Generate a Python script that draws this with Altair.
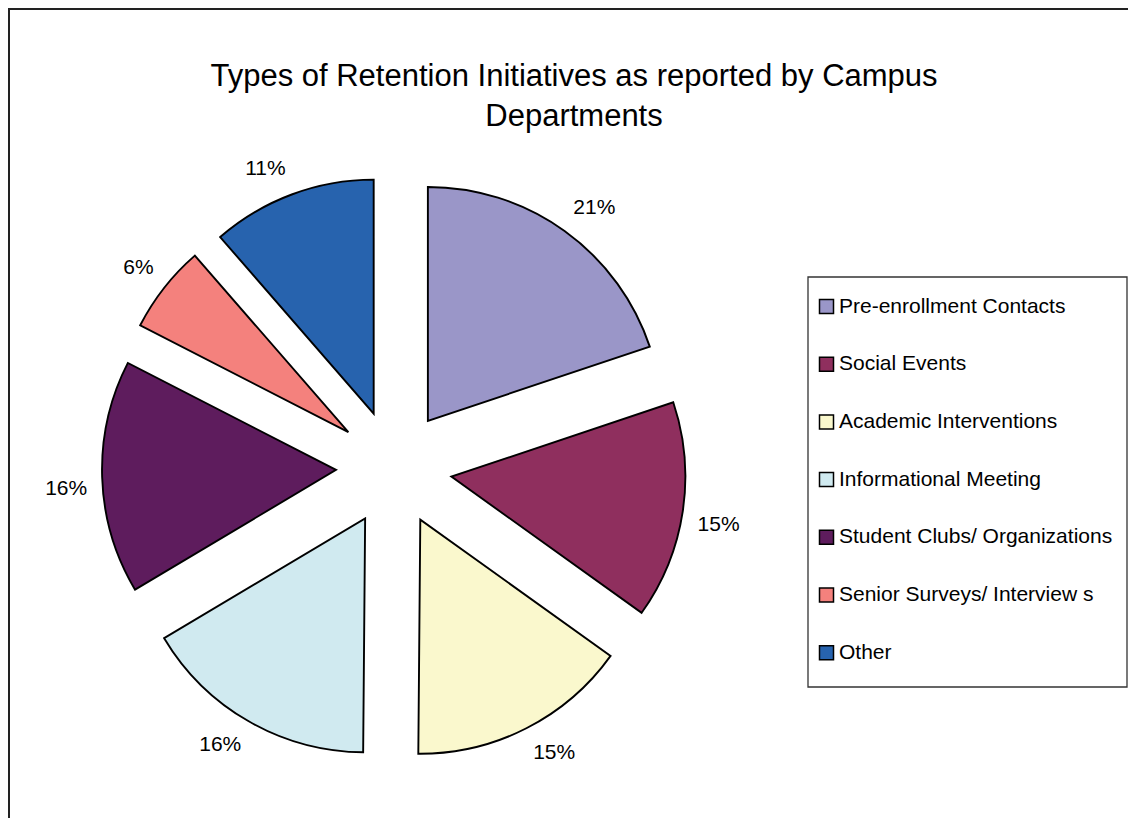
import math
import altair as alt
import pandas as pd

# ---- data ----
CATEGORIES = [
    "Pre-enrollment Contacts",
    "Social Events",
    "Academic Interventions",
    "Informational Meeting",
    "Student Clubs/ Organizations",
    "Senior Surveys/ Interview s",
    "Other",
]
# slice shares (percent) as drawn in the picture
SHARES = [19.86, 15.03, 15.25, 16.31, 16.11, 6.06, 11.39]
# data labels as printed next to each slice
PERCENT_LABELS = ["21%", "15%", "15%", "16%", "16%", "6%", "11%"]
COLORS = ["#9A96C8", "#8F2F5E", "#FAF8CD", "#D0EAF0", "#5E1C5D", "#F4817D", "#2763AE"]
TITLE_LINES = ["Types of Retention Initiatives as reported by Campus", "Departments"]

# ---- layout (pixels) ----
W, H = 1120, 810
CX, CY = 386, 460
R = 234
EXPLODE = 58
LABEL_L = 307      # distance of the label box corner from the pie centre
CHAR_HALF = 7      # half label width per character
HALF_H = 11        # half label height
FONT = "Liberation Sans"

df = pd.DataFrame(
    {
        "category": CATEGORIES,
        "share": SHARES,
        "label": PERCENT_LABELS,
        "idx": list(range(len(CATEGORIES))),
    }
)

base = (
    alt.Chart(df)
    .transform_window(cum="sum(share)", sort=[alt.SortField("idx")], frame=[None, 0])
    .transform_joinaggregate(total="sum(share)")
    .transform_calculate(
        start="(datum.cum - datum.share) / datum.total",
        end="datum.cum / datum.total",
        mid="(datum.cum - datum.share / 2) / datum.total",
        ex="sin(2 * PI * datum.mid)",
        ey="cos(2 * PI * datum.mid)",
    )
    .transform_calculate(
        lx=f"({LABEL_L} * datum.ex + (datum.ex >= 0 ? 1 : -1) * {CHAR_HALF} * length(datum.label)) / {EXPLODE}",
        ly=f"({LABEL_L} * datum.ey + (datum.ey >= 0 ? 1 : -1) * {HALF_H}) / {EXPLODE}",
    )
)

theta_scale = alt.Scale(domain=[0, 1], range=[0, 2 * math.pi])
x_scale = alt.Scale(domain=[-1, 1], range=[CX - EXPLODE, CX + EXPLODE], nice=False, zero=False)
y_scale = alt.Scale(domain=[-1, 1], range=[CY + EXPLODE, CY - EXPLODE], nice=False, zero=False)

arcs = base.mark_arc(radius=R, stroke="black", strokeWidth=1.9, strokeJoin="miter").encode(
    x=alt.X("ex:Q", scale=x_scale, axis=None),
    y=alt.Y("ey:Q", scale=y_scale, axis=None),
    theta=alt.Theta("start:Q", scale=theta_scale, stack=False),
    theta2="end:Q",
    color=alt.Color(
        "category:N",
        scale=alt.Scale(domain=CATEGORIES, range=COLORS),
        sort=CATEGORIES,
        legend=alt.Legend(
            title=None,
            orient="none",
            legendX=797,
            legendY=277,
            symbolType="square",
            symbolSize=196,
            symbolStrokeColor="black",
            symbolStrokeWidth=1.5,
            labelFont=FONT,
            labelFontSize=21,
            labelColor="black",
            labelOffset=2,
            labelLimit=400,
            rowPadding=35.7,
            padding=11,
        ),
    ),
    order=alt.Order("idx:Q"),
)

labels = base.mark_text(fontSize=21, font=FONT, color="black", align="center", baseline="middle").encode(
    x=alt.X("lx:Q", scale=x_scale, axis=None),
    y=alt.Y("ly:Q", scale=y_scale, axis=None),
    text="label:N",
)

title = alt.Chart(alt.Data(values=[{"t": "\n".join(TITLE_LINES)}])).mark_text(
    fontSize=31, font=FONT, color="black", lineBreak="\n", lineHeight=40,
    align="center", baseline="middle",
).encode(x=alt.value(566), y=alt.value(69), text="t:N")

frame = alt.Chart(alt.Data(values=[{"k": 1}]))
left_edge = frame.mark_rule(color="#222222", strokeWidth=2).encode(
    x=alt.value(1), y=alt.value(0), y2=alt.value(H)
)
top_edge = frame.mark_rule(color="#222222", strokeWidth=2).encode(
    x=alt.value(0), x2=alt.value(W), y=alt.value(1)
)
legend_box = frame.mark_rect(fill="white", stroke="#333333", strokeWidth=1.3).encode(
    x=alt.value(800), x2=alt.value(1119), y=alt.value(269), y2=alt.value(679)
)

chart = (
    alt.layer(legend_box, arcs, labels, title, left_edge, top_edge)
    .resolve_scale(x="shared", y="shared")
    .properties(width=W, height=H, padding=0, autosize=alt.AutoSizeParams(type="none"))
    .configure_view(stroke="transparent")
    .configure(background="white")
)

chart.save("out.html", embed_options={"renderer": "svg", "actions": False})
